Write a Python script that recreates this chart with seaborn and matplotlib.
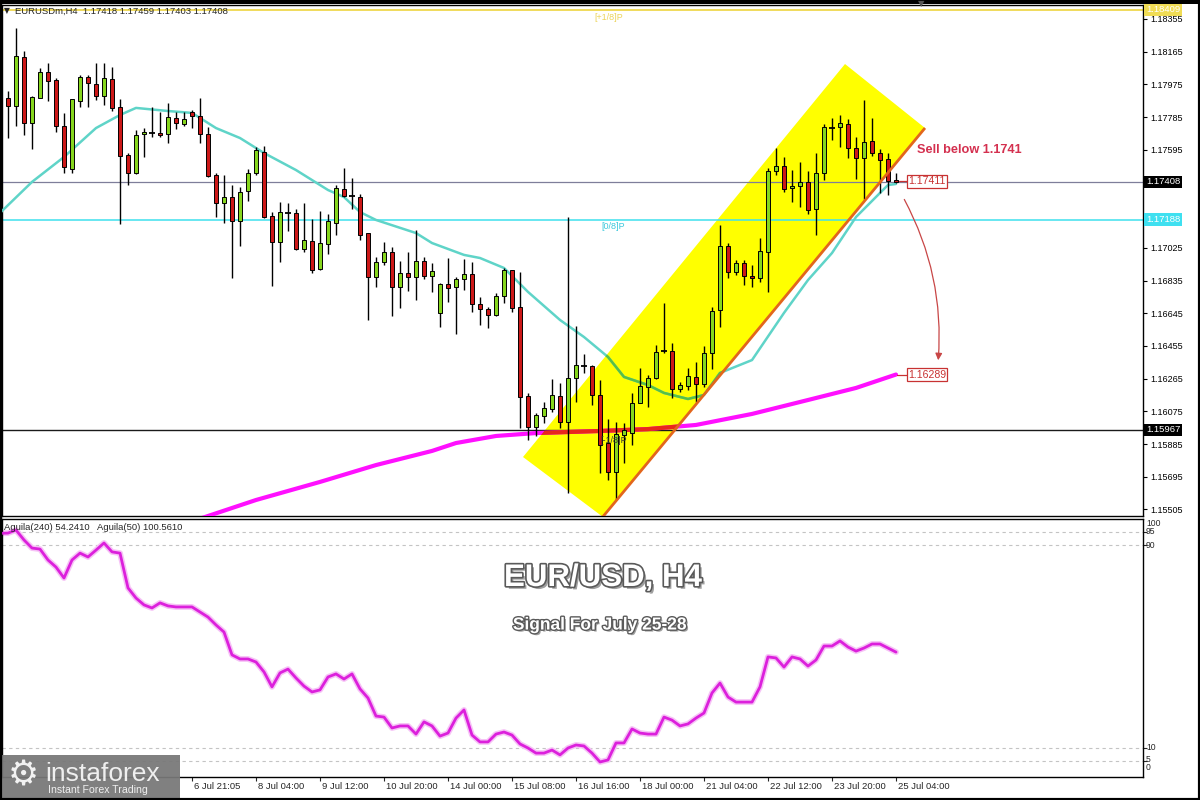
import numpy as np
import matplotlib
matplotlib.use("Agg")
import matplotlib.pyplot as plt
import seaborn as sns
import matplotlib.patheffects as pe
import matplotlib.transforms as mtransforms
from matplotlib.patches import Polygon, Rectangle, FancyArrowPatch

# ---------------- data ----------------
open_ = [1.17896, 1.17849, 1.18134, 1.17750, 1.17896, 1.18047, 1.18000, 1.17733, 1.17483, 1.17878,
         1.18018, 1.17977, 1.17907, 1.18006, 1.17843, 1.17564, 1.17460, 1.17687, 1.17692, 1.17692,
         1.17687, 1.17779, 1.17745, 1.17814, 1.17791, 1.17687, 1.17448, 1.17286, 1.17320, 1.17181,
         1.17355, 1.17460, 1.17582, 1.17210, 1.17059, 1.17228, 1.17228, 1.17018, 1.17065, 1.16902,
         1.17047, 1.17169, 1.17367, 1.17326, 1.17320, 1.17111, 1.16856, 1.16943, 1.17001, 1.16798,
         1.16879, 1.16856, 1.16949, 1.16861, 1.16647, 1.16815, 1.16798, 1.16844, 1.16873, 1.16699,
         1.16670, 1.16635, 1.16745, 1.16896, 1.16681, 1.16164, 1.15984, 1.16048, 1.16089, 1.16164,
         1.16013, 1.16269, 1.16339, 1.16339, 1.16170, 1.15891, 1.15723, 1.15938, 1.15949, 1.16124,
         1.16217, 1.16269, 1.16426, 1.16426, 1.16205, 1.16222, 1.16275, 1.16234, 1.16414, 1.16664,
         1.17036, 1.16885, 1.16937, 1.16861, 1.16850, 1.17001, 1.17472, 1.17501, 1.17373, 1.17384,
         1.17408, 1.17251, 1.17460, 1.17721, 1.17727, 1.17745, 1.17605, 1.17547, 1.17646, 1.17576,
         1.17541, 1.17418]
high = [1.17936, 1.18302, 1.18169, 1.17907, 1.18070, 1.18099, 1.18012, 1.17809, 1.17890, 1.18029,
        1.18029, 1.18099, 1.18099, 1.18076, 1.17890, 1.17576, 1.17710, 1.17721, 1.17843, 1.17814,
        1.17867, 1.17814, 1.17814, 1.17826, 1.17896, 1.17727, 1.17460, 1.17448, 1.17390, 1.17379,
        1.17483, 1.17611, 1.17617, 1.17233, 1.17291, 1.17286, 1.17251, 1.17286, 1.17193, 1.17239,
        1.17222, 1.17390, 1.17489, 1.17431, 1.17338, 1.17111, 1.16972, 1.17059, 1.17030, 1.16949,
        1.17001, 1.17129, 1.16972, 1.16937, 1.16821, 1.16966, 1.16856, 1.16960, 1.16943, 1.16739,
        1.16681, 1.16763, 1.16908, 1.16896, 1.16885, 1.16182, 1.16066, 1.16129, 1.16263, 1.16240,
        1.17204, 1.16571, 1.16408, 1.16344, 1.16257, 1.16031, 1.16013, 1.16007, 1.16182, 1.16327,
        1.16286, 1.16461, 1.16705, 1.16472, 1.16246, 1.16327, 1.16362, 1.16455, 1.16681, 1.17158,
        1.17053, 1.16954, 1.16954, 1.16925, 1.17082, 1.17489, 1.17605, 1.17553, 1.17477, 1.17524,
        1.17472, 1.17576, 1.17745, 1.17779, 1.17797, 1.17774, 1.17669, 1.17884, 1.17779, 1.17599,
        1.17576, 1.17459]
low = [1.17663, 1.17733, 1.17681, 1.17599, 1.17896, 1.17878, 1.17698, 1.17460, 1.17460, 1.17843,
       1.17843, 1.17884, 1.17855, 1.17820, 1.17164, 1.17390, 1.17454, 1.17553, 1.17669, 1.17669,
       1.17634, 1.17716, 1.17733, 1.17721, 1.17634, 1.17437, 1.17204, 1.17169, 1.16850, 1.17036,
       1.17297, 1.17448, 1.17198, 1.16803, 1.16943, 1.17123, 1.17013, 1.17001, 1.16879, 1.16896,
       1.16989, 1.17100, 1.17320, 1.17251, 1.17071, 1.16606, 1.16798, 1.16925, 1.16629, 1.16676,
       1.16774, 1.16722, 1.16844, 1.16769, 1.16565, 1.16710, 1.16525, 1.16780, 1.16652, 1.16577,
       1.16559, 1.16629, 1.16705, 1.16652, 1.15978, 1.15909, 1.15932, 1.16007, 1.16071, 1.15978,
       1.15601, 1.16129, 1.16298, 1.16112, 1.15717, 1.15676, 1.15560, 1.15775, 1.15880, 1.16124,
       1.16100, 1.16263, 1.16414, 1.16153, 1.16188, 1.16199, 1.16129, 1.16217, 1.16321, 1.16565,
       1.16850, 1.16867, 1.16809, 1.16798, 1.16827, 1.16769, 1.17448, 1.17350, 1.17291, 1.17262,
       1.17222, 1.17100, 1.17419, 1.17652, 1.17611, 1.17547, 1.17425, 1.17309, 1.17559, 1.17344,
       1.17332, 1.17403]
close = [1.17849, 1.18140, 1.17750, 1.17901, 1.18047, 1.17994, 1.17733, 1.17495, 1.17890, 1.18018,
         1.17983, 1.17907, 1.18012, 1.17838, 1.17559, 1.17460, 1.17681, 1.17698, 1.17692, 1.17681,
         1.17785, 1.17750, 1.17774, 1.17791, 1.17687, 1.17442, 1.17286, 1.17320, 1.17181, 1.17350,
         1.17460, 1.17594, 1.17204, 1.17059, 1.17233, 1.17233, 1.17018, 1.17071, 1.16896, 1.17053,
         1.17181, 1.17373, 1.17326, 1.17320, 1.17100, 1.16856, 1.16943, 1.17001, 1.16798, 1.16879,
         1.16856, 1.16949, 1.16861, 1.16891, 1.16815, 1.16792, 1.16844, 1.16873, 1.16699, 1.16670,
         1.16635, 1.16745, 1.16896, 1.16676, 1.16158, 1.15984, 1.16054, 1.16095, 1.16170, 1.16013,
         1.16269, 1.16344, 1.16339, 1.16170, 1.15880, 1.15723, 1.15944, 1.15967, 1.16124, 1.16222,
         1.16269, 1.16420, 1.16426, 1.16205, 1.16228, 1.16280, 1.16234, 1.16414, 1.16658, 1.17036,
         1.16885, 1.16937, 1.16861, 1.16850, 1.17007, 1.17472, 1.17501, 1.17367, 1.17384, 1.17408,
         1.17245, 1.17460, 1.17727, 1.17721, 1.17750, 1.17605, 1.17547, 1.17640, 1.17576, 1.17535,
         1.17413, 1.17408]

ma_fast_idx = [-1, 3, 7, 11, 14, 16, 20, 23, 26, 29, 32, 36, 40, 42, 44, 46, 51, 53, 57, 59,
               62, 65, 69, 72, 75, 77, 80, 82, 85, 87, 89, 93, 97, 100, 103, 106, 109, 110, 111]
ma_fast_val = [1.17228, 1.17408, 1.17553, 1.17721, 1.17797, 1.17838, 1.17820, 1.17809, 1.17721, 1.17663,
               1.17576, 1.17477, 1.17361, 1.17320, 1.17233, 1.17187, 1.17111, 1.17053, 1.16984, 1.16966,
               1.16908, 1.16769, 1.16606, 1.16507, 1.16391, 1.16275, 1.16228, 1.16182, 1.16147, 1.16170,
               1.16298, 1.16373, 1.16647, 1.16838, 1.16995, 1.17204, 1.17344, 1.17390, 1.17396]

ma_slow_idx = [18, 25, 31, 39, 46, 53, 56, 61, 66, 74, 80, 86, 93, 100, 106, 111]
ma_slow_val = [1.15357, 1.15467, 1.15560, 1.15665, 1.15763, 1.15845, 1.15891, 1.15932, 1.15949, 1.15961,
               1.15972, 1.15996, 1.16060, 1.16141, 1.16211, 1.16289]

aguila = [94.6, 94.7, 95.9, 92.0, 88.8, 88.4, 84.1, 81.3, 77.0, 84.1, 86.8, 85.3, 88.0, 90.8, 87.3,
          86.8, 73.1, 69.1, 66.4, 65.2, 67.2, 66.0, 65.6, 65.6, 65.6, 63.6, 61.6, 58.5, 55.7, 46.7,
          45.1, 45.1, 43.9, 40.0, 34.1, 39.6, 41.1, 37.6, 34.4, 32.1, 32.9, 38.0, 39.2, 37.2, 39.2,
          33.3, 29.7, 22.6, 22.2, 17.9, 18.7, 18.7, 15.5, 20.3, 18.7, 14.7, 15.9, 21.8,
          25.0, 15.1, 12.4, 12.4, 15.5, 16.3, 15.1, 11.6, 10.0, 8.0, 8.0, 9.2, 7.3, 10.0, 11.2,
          10.8, 8.0, 4.5, 5.3, 12.0, 12.0, 17.5, 15.9, 15.5, 15.5, 22.2, 21.0, 18.7, 19.5, 21.8,
          23.8, 31.7, 35.6, 30.1, 28.1, 28.1, 28.1, 34.1, 45.9, 45.5, 41.9, 45.9, 45.1, 42.3, 44.7,
          50.2, 50.2, 52.2, 49.8, 48.2, 49.4, 51.0, 51.0, 49.4, 47.8]
aguila_start = -1

price_ticks = [1.18355, 1.18165, 1.17975, 1.17785, 1.17595, 1.17405, 1.17215, 1.17025,
               1.16835, 1.16645, 1.16455, 1.16265, 1.16075, 1.15885, 1.15695, 1.15505]
hidden_ticks = [1.17405, 1.17215]   # covered by the price boxes
time_label_idx = [23, 31, 39, 47, 55, 63, 71, 79, 87, 95, 103, 111]
time_labels = ["6 Jul 21:05", "8 Jul 04:00", "9 Jul 12:00", "10 Jul 20:00", "14 Jul 00:00",
               "15 Jul 08:00", "16 Jul 16:00", "18 Jul 00:00", "21 Jul 04:00", "22 Jul 12:00",
               "23 Jul 20:00", "25 Jul 04:00"]

level_top = 1.18409      # [+1/8]P
level_zero = 1.17188     # [0/8]P
level_minus = 1.15967    # [-1/8]P
last_price = 1.17408
sell_level = 1.17411
target_level = 1.16289

# ---------------- styling ----------------
sns.set_theme(style="white")
plt.rcParams["font.family"] = ["Liberation Sans", "DejaVu Sans"]

W, H = 1200, 800
fig = plt.figure(figsize=(12, 8), dpi=100)
fig.patch.set_facecolor("white")


def fx(px):
    return px / W


def fy(py):
    return 1 - py / H


# pixel -> data helpers (for annotation placement only)
def X(px):
    return (px - 8) / 8.0


def P(py):
    return 1.18465 - 0.0000581 * py


def V(py):
    return (773.4 - py) / 2.5375


ax = fig.add_axes([fx(2), fy(516), fx(1143) - fx(2), (516 - 5) / H])
ax2 = fig.add_axes([fx(2), fy(777), fx(1143) - fx(2), (777 - 519) / H])

for a in (ax, ax2):
    a.set_facecolor("white")
    for s in a.spines.values():
        s.set_color("black")
        s.set_linewidth(1.0)
    a.set_xlim(X(2), X(1143))

ax.set_ylim(P(516), P(5))
ax2.set_ylim(V(777), V(519))

# ---------------- main panel ----------------
chan = [(X(523), P(457)), (X(603), P(517)), (X(925), P(128)), (X(845), P(64))]
poly = Polygon(chan, closed=True, facecolor="#ffff00", edgecolor="none", zorder=1)
ax.add_patch(poly)

ax.axhline(level_top, color="#efd84e", lw=1.3, zorder=2)
ax.axhline(last_price, color="#7e7e9a", lw=0.9, zorder=2)
ax.axhline(level_zero, color="#3fe0ee", lw=1.1, zorder=2)
ax.axhline(level_minus, color="#1a1a1a", lw=1.0, zorder=2)

sns.lineplot(x=ma_slow_idx, y=ma_slow_val, ax=ax, color="#ff10ff", linewidth=3.0, zorder=3,
             sort=False, legend=False)
sns.lineplot(x=ma_fast_idx, y=ma_fast_val, ax=ax, color="#5fd4c8", linewidth=1.8, zorder=3,
             sort=False, legend=False)
l1, = ax.plot(ma_slow_idx, ma_slow_val, color="#e8281c", lw=3.0, zorder=3.1)
l1.set_clip_path(poly)
l2, = ax.plot(ma_fast_idx, ma_fast_val, color="#58bf46", lw=1.8, zorder=3.1)
l2.set_clip_path(poly)

green, red = "#86d61e", "#cc1818"
for i, (o, h, l, c) in enumerate(zip(open_, high, low, close)):
    ax.vlines(i, l, h, color="black", lw=1.0, zorder=4)
    if abs(c - o) < 0.000065:
        ax.hlines(o, i - 0.32, i + 0.32, color="black", lw=1.3, zorder=5)
    else:
        ax.add_patch(Rectangle((i - 0.31, min(o, c)), 0.62, abs(c - o),
                               facecolor=green if c > o else red,
                               edgecolor="black", lw=0.7, zorder=5))

ax.plot([X(601), X(925)], [P(519), P(128)], color="#e2661c", lw=2.0, zorder=6,
        solid_capstyle="butt")

ax.text(X(594), P(18), "[+1/8]P", color="#ecd45a", fontsize=6.5, va="center", zorder=7)
ax.text(X(601), P(227), "[0/8]P", color="#3cc8dc", fontsize=6.5, va="center", zorder=7)
ax.text(X(600), P(441), "[-1/8]P", color="#333333", fontsize=6.5, va="center", zorder=7)

ax.yaxis.tick_right()
ax.set_yticks(price_ticks)
ax.set_yticklabels(["" if t in hidden_ticks else f"{t:.5f}" for t in price_ticks])
ax.tick_params(axis="y", which="both", right=True, left=False, labelright=True,
               labelleft=False, length=3, width=0.8, pad=2, labelsize=6.5, colors="black")
ax.set_xticks([])


def axis_box(price, txt, fc, tc="white"):
    ax.text(X(1146), price, txt, ha="left", va="center", fontsize=6.8, color=tc,
            bbox=dict(boxstyle="square,pad=0.2", fc=fc, ec="none"), clip_on=False, zorder=10)


axis_box(level_top, "1.18409", "#f0dc55")
axis_box(last_price, "1.17408", "black")
axis_box(level_zero, "1.17188", "#3fe0f0")
axis_box(level_minus, "1.15967", "black")

ax.text(X(917), P(150), "Sell below 1.1741", color="#d4304f", fontsize=9.2,
        fontweight="bold", va="center", zorder=8)
box_kw = dict(boxstyle="square,pad=0.12", fc="white", ec="#c83232", lw=0.9)
ax.plot([X(899), X(907)], [sell_level, sell_level], color="#c83232", lw=0.9, zorder=7)
ax.text(X(908), sell_level, "1.17411", color="#c83232", fontsize=7.6, va="center",
        ha="left", bbox=box_kw, zorder=8)
ax.plot([X(897), X(907)], [target_level, target_level], color="#c83232", lw=0.9, zorder=7)
ax.text(X(908), target_level, "1.16289", color="#c83232", fontsize=7.6, va="center",
        ha="left", bbox=box_kw, zorder=8)
arrow = FancyArrowPatch((X(903), P(197)), (X(938), P(363)),
                        connectionstyle="arc3,rad=-0.15", arrowstyle="-|>",
                        mutation_scale=10, color="#c84646", lw=0.9, zorder=8)
ax.add_patch(arrow)

fig.text(fx(4), fy(11), "\u25bc", fontsize=5.5, va="center", ha="left",
         family=["DejaVu Sans"], zorder=12)
fig.text(fx(15), fy(11), "EURUSDm,H4  1.17418 1.17459 1.17403 1.17408", fontsize=6.8,
         va="center", ha="left", zorder=12)

# ---------------- indicator panel ----------------
ag_x = np.arange(aguila_start, aguila_start + len(aguila))
ax2.plot(ag_x, aguila, color="#f6c2f6", lw=4.2, zorder=2, solid_joinstyle="round")
sns.lineplot(x=ag_x, y=aguila, ax=ax2, color="#dc20dc", linewidth=2.0, zorder=3,
             sort=False, legend=False)
for lv in (95, 90, 10, 5):
    ax2.axhline(lv, color="#c4c4c4", lw=0.8, ls=(0, (3, 3)), zorder=1)

ax2.text(X(4), V(527), "Aguila(240) 54.2410   Aguila(50) 100.5610", fontsize=6.8,
         va="center", ha="left", zorder=5)

ax2.yaxis.tick_right()
ax2.set_yticks([95, 90, 10, 5])
ax2.set_yticklabels([])
ax2.tick_params(axis="y", right=True, left=False, length=3, width=0.8, labelright=False)
for val, py in (("100", 523), ("95", 532), ("90", 545), ("10", 748), ("5", 759), ("0", 768)):
    ax2.text(X(1146), V(py), val, fontsize=6.2, va="center", ha="left", clip_on=False)

ax2.set_xticks(time_label_idx)
ax2.set_xticklabels([])
ax2.tick_params(axis="x", bottom=True, length=3, width=0.8, direction="out")
btrans = mtransforms.blended_transform_factory(ax2.transData, ax2.transAxes)
for idx, lab in zip(time_label_idx, time_labels):
    ax2.text(idx + 0.25, -0.02, lab, transform=btrans, fontsize=6.8, ha="left", va="top",
             clip_on=False)

fx_main = [pe.SimplePatchShadow(offset=(2, -2), shadow_rgbFace="#777777", alpha=0.7),
           pe.Stroke(linewidth=2.4, foreground="#5a5a5a"), pe.Normal()]
fig.text(fx(603), fy(578), "EUR/USD, H4", fontsize=22.5, fontweight="bold", color="white",
         ha="center", va="center", path_effects=fx_main, zorder=12)
fx_sub = [pe.SimplePatchShadow(offset=(1.5, -1.5), shadow_rgbFace="#777777", alpha=0.7),
          pe.Stroke(linewidth=2.0, foreground="#5a5a5a"), pe.Normal()]
fig.text(fx(600), fy(625), "Signal For July 25-28", fontsize=12.5, fontweight="bold",
         color="white", ha="center", va="center", path_effects=fx_sub, zorder=12)

# logo
fig.add_artist(Rectangle((0, 0), fx(180), (800 - 755) / H, transform=fig.transFigure,
                         facecolor="#787878", edgecolor="none", alpha=0.94, zorder=11))
fig.text(fx(23), fy(776), "\u2699", fontsize=25, color="#f2f2f2", ha="center", va="center",
         family=["DejaVu Sans"], zorder=12)
fig.text(fx(45), fy(781), "instaforex", fontsize=19, color="#efefef", ha="left",
         va="baseline", zorder=12)
fig.text(fx(48), fy(790), "Instant Forex Trading", fontsize=7.6, color="#efefef", ha="left",
         va="center", zorder=12)

# window frame
fig.add_artist(Rectangle((0, fy(4)), 1, 4 / H, transform=fig.transFigure,
                         facecolor="black", edgecolor="none", zorder=13))
fig.add_artist(Rectangle((0, 0), 1, 1, transform=fig.transFigure, fill=False,
                         edgecolor="black", lw=3, zorder=13))
fig.text(fx(921), fy(4), "\u25bc", fontsize=6, color="#555555", ha="center", va="center",
         family=["DejaVu Sans"], zorder=14)

fig.savefig("out.png", dpi=100)
